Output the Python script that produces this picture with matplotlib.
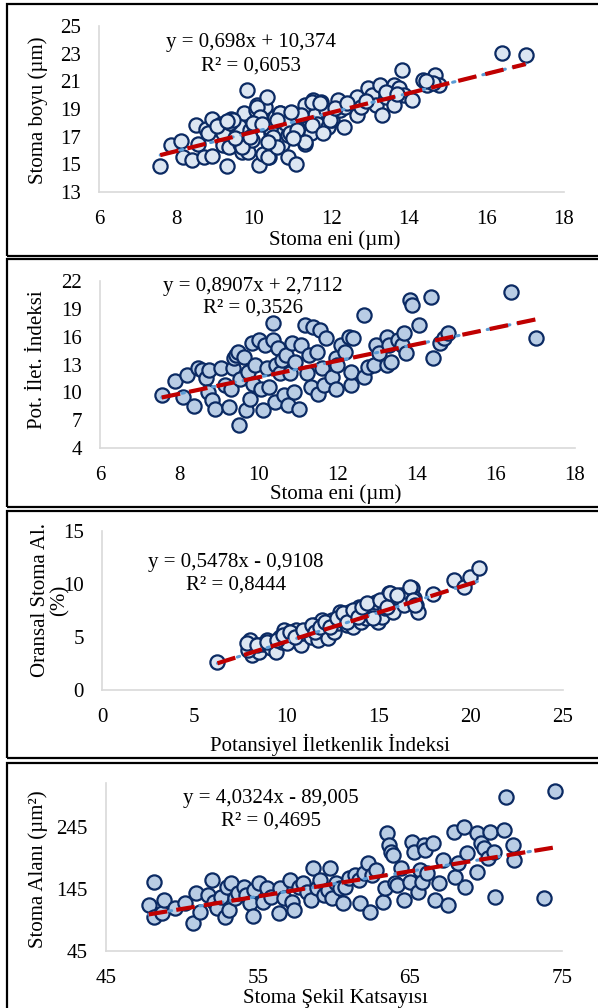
import numpy as np
import matplotlib
matplotlib.use("Agg")
import matplotlib.pyplot as plt
from matplotlib.patches import Rectangle

plt.rcParams['font.family'] = ['Liberation Serif', 'DejaVu Serif']

# ---------------- data ----------------
# Panel 1: Stoma eni (x) vs Stoma boyu (y)
x1 = [7.58, 7.87, 8.12, 8.17, 8.41, 8.51, 8.56, 8.76, 8.81, 8.71, 8.91, 8.91, 9.15, 9.25, 9.20,
      9.30, 9.35, 9.40, 9.45, 9.55, 9.60, 9.65, 9.70, 9.74, 9.82, 9.89, 9.84, 9.94, 9.99, 10.04,
      10.09, 10.12, 10.19, 10.24, 10.29, 10.34, 10.38, 10.43, 10.48, 10.53, 10.58, 10.63, 10.68,
      10.73, 10.78, 10.83, 10.88, 10.88, 10.93, 11.08, 11.08, 11.12, 11.32, 11.32, 11.42, 11.47,
      11.52, 11.57, 11.62, 11.72, 11.86, 11.91, 11.96, 12.01, 12.16, 12.21, 12.31, 12.36, 12.66,
      12.66, 12.76, 12.95, 13.05, 13.15, 13.25, 13.30, 13.40, 13.60, 13.60, 13.73, 13.83, 13.88,
      14.08, 14.37, 14.47, 14.67, 14.77, 14.62, 16.39, 17.01,
      9.21, 9.38, 9.47, 9.68, 9.90, 10.07, 10.15, 9.98, 10.37, 10.41, 10.50, 10.67, 10.59, 10.80,
      10.93, 11.10, 11.32, 11.49, 11.49, 11.70, 11.79, 11.96, 12.09, 9.05, 9.50, 10.20, 10.60,
      11.20, 11.00, 12.40, 12.90, 13.40, 13.70, 14.45, 9.30, 10.35, 10.95]
y1 = [14.88, 16.38, 16.67, 15.54, 15.34, 17.83, 16.50, 17.59, 17.23, 15.54, 15.61, 18.31, 17.95,
      17.23, 16.38, 14.88, 16.26, 18.31, 17.83, 18.07, 17.76, 16.50, 15.90, 18.68, 20.37, 17.47,
      15.90, 16.74, 17.83, 18.92, 19.28, 14.93, 18.31, 15.78, 19.16, 19.88, 15.54, 17.23, 17.59,
      18.43, 16.74, 17.83, 18.68, 16.50, 17.47, 18.31, 17.11, 15.54, 17.95, 18.43, 15.05, 17.35,
      16.50, 19.28, 18.19, 17.23, 19.64, 18.56, 17.95, 19.52, 18.92, 17.71, 18.31, 18.19, 19.64,
      18.92, 17.71, 19.16, 19.88, 18.56, 19.16, 20.49, 20.00, 19.28, 20.73, 18.56, 19.88, 20.73,
      19.28, 20.49, 21.82, 20.00, 19.64, 21.09, 20.73, 21.45, 20.73, 20.85, 23.02, 22.90,
      17.24, 18.01, 18.21, 16.28, 17.00, 19.17, 18.44, 17.97, 15.55, 17.61, 17.00, 18.69, 16.28,
      17.97, 17.24, 17.48, 16.64, 19.53, 17.84, 19.41, 17.24, 18.21, 19.05, 17.80, 16.90, 17.90,
      18.20, 18.60, 16.90, 19.40, 19.60, 20.20, 20.10, 21.00, 18.10, 16.60, 18.80]

# Panel 2: Stoma eni (x) vs Pot. İlet. İndeksi (y)
x2 = [7.56, 7.90, 8.09, 8.19, 8.38, 8.48, 8.57, 8.67, 8.75, 8.72, 8.82, 8.91, 9.06, 9.15, 9.25,
      9.30, 9.35, 9.39, 9.44, 9.49, 9.54, 9.52, 9.63, 9.68, 9.73, 9.78, 9.83, 9.87, 9.92, 10.02,
      10.07, 10.12, 10.16, 10.21, 10.26, 10.36, 10.36, 10.41, 10.45, 10.50, 10.55, 10.60, 10.65,
      10.69, 10.74, 10.79, 10.84, 10.89, 10.93, 11.03, 11.08, 11.18, 11.22, 11.27, 11.32, 11.37,
      11.47, 11.51, 11.56, 11.61, 11.66, 11.71, 11.85, 11.95, 12.00, 11.95, 12.10, 12.19, 12.29,
      12.33, 12.33, 12.38, 12.67, 12.67, 12.77, 12.91, 12.96, 13.06, 13.25, 13.25, 13.30, 13.35,
      13.54, 13.63, 13.68, 13.73, 13.83, 13.87, 14.07, 14.36, 14.41, 14.60, 14.70, 14.79, 16.38,
      17.01]
y2 = [9.69, 11.20, 9.51, 11.85, 8.54, 12.57, 12.39, 11.56, 12.39, 10.05, 9.15, 8.25, 12.57, 10.77,
      8.43, 10.41, 12.57, 13.65, 14.01, 14.37, 11.49, 6.45, 13.83, 8.07, 12.21, 9.33, 15.27, 10.95,
      12.93, 15.63, 10.41, 8.07, 15.09, 12.57, 10.59, 17.43, 15.63, 8.97, 12.93, 14.73, 12.03,
      13.47, 9.69, 14.01, 8.61, 12.03, 15.27, 10.05, 13.29, 8.25, 15.09, 17.25, 12.03, 14.01,
      10.59, 17.07, 14.37, 9.87, 16.71, 12.57, 10.77, 15.81, 11.67, 13.65, 12.93, 10.41, 15.09,
      14.37, 15.99, 10.77, 12.21, 15.81, 18.33, 11.67, 12.75, 12.93, 15.09, 14.19, 15.99, 12.93,
      15.09, 13.29, 15.63, 15.09, 16.35, 14.19, 19.95, 19.41, 17.25, 20.31, 13.65, 15.27, 15.81,
      16.35, 20.77, 15.88]

# Panel 3: Potansiyel İletkenlik İndeksi (x) vs Oransal Stoma Al. (y)
x3 = [6.26, 8.02, 8.12, 8.12, 8.33, 8.53, 8.74, 8.95, 9.15, 9.36, 9.46, 9.67, 9.77, 9.88, 10.04,
      10.19, 10.29, 10.50, 10.60, 10.81, 10.92, 11.12, 11.33, 11.54, 11.64, 11.74, 11.95, 12.16,
      12.26, 12.37, 12.47, 12.57, 12.78, 12.88, 12.99, 13.19, 13.30, 13.40, 13.50, 13.61, 13.82,
      13.92, 14.02, 14.23, 14.33, 14.44, 14.64, 14.85, 14.95, 15.16, 15.37, 15.57, 15.68, 15.78,
      15.99, 16.19, 16.40, 16.81, 16.91, 17.02, 17.13, 17.96, 19.10, 19.62, 19.93, 20.44,
      7.93, 7.84, 8.39, 8.93, 9.47, 9.83, 10.20, 10.47, 10.92, 11.37, 11.55, 11.82, 12.09, 12.36,
      12.72, 13.09, 13.27, 13.63, 13.90, 14.09, 14.36, 14.72, 15.08, 15.44, 15.62, 15.98, 16.70,
      16.89, 16.98]
y3 = [2.67, 4.72, 3.93, 3.30, 4.25, 3.62, 4.31, 4.72, 3.93, 4.40, 3.62, 5.03, 4.56, 5.66, 4.40,
      5.50, 5.19, 5.66, 4.87, 4.25, 5.35, 5.66, 5.03, 6.13, 5.50, 4.72, 6.60, 5.50, 4.87, 6.13,
      6.60, 5.50, 6.29, 7.39, 6.60, 7.08, 6.13, 7.39, 6.60, 5.97, 7.23, 7.86, 6.45, 7.70, 6.76,
      7.23, 7.23, 8.33, 6.45, 6.92, 7.70, 9.12, 8.18, 7.39, 8.81, 8.96, 8.02, 9.59, 8.65, 8.02,
      7.39, 9.03, 10.38, 9.75, 10.69, 11.48,
      3.77, 4.40, 4.25, 4.56, 4.72, 5.19, 5.50, 5.03, 5.66, 6.13, 5.50, 5.97, 6.45, 5.97, 6.76,
      7.23, 6.45, 7.55, 6.92, 7.86, 8.18, 6.76, 8.49, 7.86, 9.12, 8.96, 9.75, 8.49, 8.02]

# Panel 4: Stoma Şekil Katsayısı (x) vs Stoma Alanı (y)
x4 = [47.81, 48.19, 48.19, 48.69, 48.82, 49.57, 50.20, 50.70, 50.95, 51.20, 51.70, 51.95, 52.08,
      52.33, 52.58, 52.83, 52.96, 53.08, 53.21, 53.46, 53.71, 54.09, 54.21, 54.47, 54.64, 54.72,
      55.09, 55.34, 55.59, 55.85, 56.35, 56.47, 56.72, 57.10, 57.23, 57.35, 57.73, 57.98, 58.23,
      58.48, 58.61, 58.86, 59.11, 59.36, 59.61, 59.74, 59.86, 60.11, 60.37, 60.62, 60.74, 60.99,
      61.37, 61.62, 61.74, 61.99, 62.25, 62.37, 62.50, 62.75, 63.25, 63.38, 63.50, 63.63, 63.75,
      63.88, 64.00, 64.13, 64.38, 64.63, 65.01, 65.14, 65.26, 65.51, 65.64, 65.76, 65.89, 66.01,
      66.14, 66.52, 66.64, 66.89, 67.14, 67.52, 67.90, 67.95, 68.15, 68.52, 68.65, 68.77, 69.40,
      69.40, 69.65, 69.90, 70.16, 70.28, 70.53, 70.61, 71.16, 71.29, 71.79, 71.86, 73.80, 74.55]
y4 = [119.0, 156.5, 100.2, 105.6, 127.0, 113.6, 121.7, 89.5, 137.8, 108.3, 135.1, 159.2, 124.4,
      113.6, 132.4, 100.2, 148.5, 111.0, 153.8, 129.7, 137.8, 148.5, 135.1, 121.7, 101.8, 143.1,
      153.8, 124.4, 145.8, 132.4, 105.6, 145.8, 129.7, 159.2, 124.4, 111.0, 148.5, 153.8, 140.4,
      127.0, 178.0, 145.8, 159.2, 135.1, 143.1, 178.0, 129.7, 153.8, 145.8, 121.7, 148.5, 161.9,
      167.3, 159.2, 121.7, 170.0, 186.0, 108.3, 167.3, 175.3, 124.4, 145.8, 234.3, 215.5, 204.8,
      199.4, 153.8, 151.2, 178.0, 127.0, 156.5, 220.9, 204.8, 140.4, 175.3, 156.5, 215.5, 207.5,
      170.0, 218.2, 127.0, 153.8, 191.4, 119.0, 237.0, 164.6, 186.0, 245.0, 148.5, 202.1, 234.3,
      172.6, 218.2, 210.1, 194.1, 237.0, 204.8, 132.4, 239.6, 293.3, 215.5, 191.4, 129.7, 302.4]

slopes = [0.698, 0.8907, 0.5478, 4.0324]
intercepts = [10.374, 2.7112, -0.9108, -89.005]
eq_texts = ["y = 0,698x + 10,374", "y = 0,8907x + 2,7112", "y = 0,5478x - 0,9108", "y = 4,0324x - 89,005"]
r2_texts = ["R² = 0,6053", "R² = 0,3526", "R² = 0,8444", "R² = 0,4695"]
x_labels = ["Stoma eni (µm)", "Stoma eni (µm)", "Potansiyel İletkenlik İndeksi", "Stoma Şekil Katsayısı"]
y_labels = ["Stoma boyu (µm)", "Pot. İlet. İndeksi", "Oransal Stoma Al.\n(%)", "Stoma Alanı (µm²)"]
x_ticks = [[6, 8, 10, 12, 14, 16, 18], [6, 8, 10, 12, 14, 16, 18], [0, 5, 10, 15, 20, 25], [45, 55, 65, 75]]
y_ticks = [[13, 15, 17, 19, 21, 23, 25], [4, 7, 10, 13, 16, 19, 22], [0, 5, 10, 15], [45, 145, 245]]

# ---------------- layout (pixels) ----------------
W, H = 598, 1008
fig = plt.figure(figsize=(W / 100, H / 100), dpi=100)


def rect(l, t, r, b):
    return [l / W, 1 - b / H, (r - l) / W, (b - t) / H]


def fx(x):
    return x / W


def fy(y):
    return 1 - y / H


axes_px = [(99, 26, 564, 192), (100, 281, 575, 448), (102, 531, 563, 690), (106, 783, 562, 951)]
xlims = [(6, 18), (6, 18), (0, 25), (45, 75)]
ylims = [(13, 25), (4, 22), (0, 15), (45, 315)]
boxes = [(3.5, 255.5), (259.3, 506.5), (510.5, 757.5), (762.5, 1020)]
eq_pos = [(251, 43, 66), (253, 287, 308), (236, 562, 585), (271, 798, 821)]
xl_pos = [(335, 240), (336, 494), (330, 745), (335, 998)]
yl_pos = [(38, 110), (38, 360), (50, 600), (38, 869)]
fills = ['#DCE6F2', '#B9CDE5', '#DCE6F2', '#B9CDE5']
xs = [x1, x2, x3, x4]
ys = [y1, y2, y3, y4]

FS = 15
for i in range(4):
    t, b = boxes[i]
    fig.patches.append(Rectangle((fx(7), fy(b)), fx(610) - fx(7), fy(t) - fy(b),
                                 transform=fig.transFigure, fill=False,
                                 edgecolor='black', linewidth=1.6))
    ax = fig.add_axes(rect(*axes_px[i]))
    ax.set_facecolor('none')
    x = np.array(xs[i])
    y = np.array(ys[i])
    ax.scatter(x, y, s=105, c=fills[i], edgecolors='#0B2A63', linewidths=1.6, zorder=3, clip_on=False)
    xx = np.array([x.min(), x.max()])
    yy = slopes[i] * xx + intercepts[i]
    ax.plot(xx, yy, color='#5B9BD5', lw=2.2, linestyle=(0, (0.8, 2.6)), dash_capstyle='round', zorder=4)
    ax.plot(xx, yy, color='#C00000', lw=3.0, linestyle=(0, (4.5, 2.2)), zorder=5)
    ax.set_xlim(*xlims[i])
    ax.set_ylim(*ylims[i])
    ax.set_xticks(x_ticks[i])
    ax.set_yticks(y_ticks[i])
    for s in ['top', 'right']:
        ax.spines[s].set_visible(False)
    for s in ['left', 'bottom']:
        ax.spines[s].set_color('#D9D9D9')
        ax.spines[s].set_linewidth(1.2)
    ax.tick_params(axis='both', length=0, labelsize=FS, colors='black')
    ax.tick_params(axis='x', pad=13)
    ax.tick_params(axis='y', pad=13)
    ex, ey1, ey2 = eq_pos[i]
    fig.text(fx(ex), fy(ey1), eq_texts[i], ha='center', va='center', fontsize=FS)
    fig.text(fx(ex), fy(ey2), r2_texts[i], ha='center', va='center', fontsize=FS)
    lx, ly = xl_pos[i]
    fig.text(fx(lx), fy(ly), x_labels[i], ha='center', va='center', fontsize=FS)
    yx, yy_ = yl_pos[i]
    fig.text(fx(yx), fy(yy_), y_labels[i], ha='center', va='center', rotation=90,
             multialignment='center', fontsize=FS, linespacing=1.0)

fig.savefig('out.png', dpi=100)
